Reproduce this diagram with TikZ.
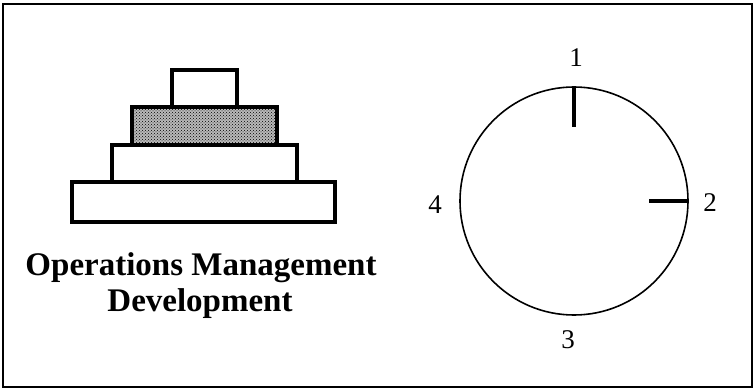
\documentclass[tikz,border=0pt]{standalone}
\usepackage{fontspec}
\setmainfont{Liberation Serif}
\usetikzlibrary{patterns,positioning}

\begin{document}
\begin{tikzpicture}[x=1pt, y=-1pt,
    tier/.style={draw, line width=3.2pt, fill=white},
    hand/.style={line width=4.5pt},
    digit/.style={font=\fontsize{27}{32}\selectfont, inner sep=0pt},
    title/.style={font=\fontsize{33}{38}\selectfont\bfseries, inner sep=0pt, anchor=base}]
  \useasboundingbox (0,0) rectangle (755,390);
  % frame
  \draw[line width=1.3pt] (3,4) rectangle (752,387);
  % pyramid
  \draw[tier] (72,182) rectangle (335,222);
  \draw[tier] (112,145) rectangle (297,182);
  \draw[tier, fill=gray!55, postaction={pattern=crosshatch dots, pattern color=black}] (132,107) rectangle (277,145);
  \draw[tier] (172,70) rectangle (237,107);
  \node[title] (ops) at (201,275) {Operations Management};
  \node[title] (dev) at (200,311) {Development};
  % clock
  \node[draw, circle, line width=1.6pt, minimum size=228pt, inner sep=0pt] (clock) at (574,201) {};
  \draw[hand] (clock.north) -- +(0,41);
  \draw[hand] (clock.east) -- +(-40,0);
  \node[digit] (q1) at (576,58) {1};
  \node[digit] (q2) at (710,203) {2};
  \node[digit] (q3) at (568,340) {3};
  \node[digit] (q4) at (435,205) {4};
\end{tikzpicture}
\end{document}
